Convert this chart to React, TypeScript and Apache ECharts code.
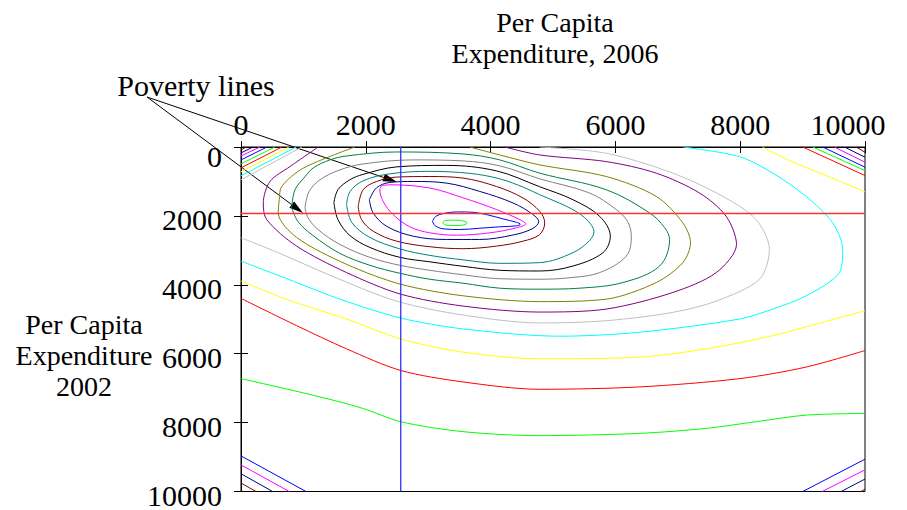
import React, { useEffect, useRef } from "react";
import * as echarts from "echarts";

// Axis ticks
const axisTicks = [0, 2000, 4000, 6000, 8000, 10000];
// Poverty lines
const povertyLine2006 = 2560;
const povertyLine2002 = 1930;

// Colour cycle of contour levels (innermost first)
const LIME = "#00ff00", BLUE = "#0000ff", MAGENTA = "#ff00ff", NAVY = "#000080", MAROON = "#800000";
const TEAL = "#008080", BLACK = "#000000", GRAY = "#808080", SEAGREEN = "#008040", OLIVE = "#808000";
const PURPLE = "#800080", SILVER = "#c0c0c0", CYAN = "#00ffff", YELLOW = "#ffff00", RED = "#ff0000";

// Contours: [x (2006), y (2002)]
const limeInner = [[3229,2193],[3282,2130],[3426,2124],[3570,2153],[3623,2202],[3570,2263],[3426,2280],[3282,2266],[3229,2193]];
const blueInner = [[3069,2156],[3122,2012],[3293,1913],[3506,1885],[3719,1896],[3934,1962],[4200,2087],[4414,2185],[4478,2242],[4414,2289],[4147,2317],[3827,2358],[3506,2395],[3239,2375],[3106,2280],[3069,2156]];
const magentaInner = [[2253,1126],[2386,1097],[3026,1192],[3554,1472],[4099,1818],[4467,2107],[4563,2231],[4414,2346],[3987,2491],[3454,2560],[3026,2491],[2706,2317],[2438,1962],[2278,1579],[2225,1241],[2253,1126]];
const navyInner = [[2057,1530],[2173,1183],[2386,1030],[2759,1001],[3293,1048],[3827,1290],[4360,1625],[4680,1962],[4771,2165],[4675,2367],[4360,2554],[3827,2684],[3293,2684],[2759,2589],[2333,2300],[2118,1913],[2057,1530]];
const maroonInner = [[1878,1723],[1958,1241],[2173,1001],[2493,874],[3026,857],[3559,903],[4094,1146],[4520,1481],[4787,1867],[4867,2202],[4787,2540],[4520,2733],[4094,2877],[3559,2952],[3026,2895],[2493,2733],[2118,2444],[1932,2107],[1878,1723]];
const tealRing = [[1692,1674],[1745,1299],[1958,981],[2385,779],[3026,707],[3666,765],[4147,924],[4547,1183],[4787,1385],[5107,1631],[5320,1818],[5507,2049],[5620,2280],[5656,2453],[5587,2713],[5320,3068],[4787,3356],[4147,3377],[3559,3275],[3026,3146],[2546,2958],[2065,2626],[1777,2194],[1692,1674]];
const blackRing = [[1489,1616],[1553,1241],[1745,952],[1958,794],[2493,577],[3293,534],[4094,693],[4787,1154],[5320,1530],[5747,2012],[5919,2589],[5800,3068],[5320,3455],[4787,3599],[4147,3579],[3559,3463],[3026,3333],[2546,3203],[2065,2915],[1745,2569],[1553,2107],[1489,1616]];
const grayRing = [[1025,1760],[1089,1299],[1265,952],[1585,664],[1958,491],[2759,375],[3559,404],[4147,548],[4787,924],[5587,1336],[6015,1818],[6196,2165],[6255,2589],[6175,3166],[5747,3645],[5267,3795],[4787,3838],[4147,3824],[3559,3709],[3026,3579],[2546,3434],[2065,3203],[1585,2828],[1233,2395],[1073,2049],[1025,1760]];
const seagreenRing = [[812,1760],[865,1241],[1025,866],[1158,606],[1425,375],[1692,260],[2493,144],[3559,202],[4147,375],[4787,759],[5855,1241],[6548,1913],[6788,2338],[6868,2684],[6708,3455],[6121,3934],[5427,4098],[4787,4127],[4147,4098],[3559,3954],[3026,3838],[2546,3665],[2065,3434],[1585,3088],[1153,2569],[913,2165],[812,1760]];
const oliveArc = [[3666,0],[4147,231],[4787,519],[5855,857],[6655,1434],[7081,2202],[7204,2779],[7081,3356],[6655,3934],[5855,4416],[4787,4488],[3559,4320],[2557,3983],[1692,3405],[892,2626],[597,1913],[613,1530],[652,1146],[997,615],[1825,0]];
const purpleArc = [[4227,0],[4787,231],[5855,424],[6655,759],[7349,1336],[7776,2012],[7941,2828],[7616,3645],[6921,4222],[5855,4704],[4787,4791],[3559,4618],[2557,4271],[1692,3645],[892,2877],[411,2107],[357,1625],[464,1001],[784,569],[1238,0]];
const silverArc = [[0,2635],[624,3088],[1425,3723],[2493,4473],[3559,4877],[4787,5108],[5855,5042],[6921,4800],[7616,4473],[8309,3838],[8468,2973],[8256,2107],[7722,1434],[6921,759],[5855,182],[4787,0]];
const cyanArc = [[7081,0],[7989,280],[8522,759],[9057,1434],[9482,2202],[9642,2973],[9590,3645],[9057,4320],[8522,4704],[7989,4993],[6388,5377],[5107,5492],[3559,5281],[2557,4964],[1585,4416],[892,3934],[0,3310]];
const yellowLow = [[0,3888],[720,4416],[1692,4993],[2557,5570],[3559,5954],[4787,6147],[6388,6098],[7456,5859],[8522,5475],[9322,5088],[10000,4753]];
const redLow = [[0,4395],[892,5186],[1692,5859],[2557,6485],[3559,6820],[4787,7033],[6388,6964],[7989,6724],[9057,6387],[10000,5908]];
const limeLow = [[0,6724],[1158,7206],[1958,7590],[2557,7974],[3559,8263],[4787,8378],[6388,8312],[7456,8167],[8256,7974],[9057,7783],[10000,7734]];

// Top-right corner
const yellowTR = [[8357,0],[8789,395],[9430,866],[10000,1299]];
const redTR = [[9002,0],[10000,828]];
const limeTR = [[9162,0],[10000,684]];
const blueTR = [[9322,0],[10000,586]];
const magentaTR = [[9510,0],[10000,442]];
const navyTR = [[9670,0],[10000,297]];
const maroonTR = [[9857,0],[10000,153]];

// Top-left corner
const silverTL = [[0,952],[977,0]];
const cyanTL = [[0,837],[881,0]];
const yellowTL = [[0,722],[768,0]];
const redTL = [[0,606],[656,0]];
const limeTL = [[0,491],[544,0]];
const blueTL = [[0,375],[416,0]];
const magentaTL = [[0,260],[304,0]];
const navyTL = [[0,173],[192,0]];
const maroonTL = [[0,87],[80,0]];

// Bottom-left corner
const blueBL = [[0,8967],[1041,10000]];
const magentaBL = [[0,9227],[773,10000]];
const navyBL = [[0,9486],[508,10000]];
const maroonBL = [[0,9755],[240,10000]];

// Bottom-right corner
const blueBR = [[9002,10000],[10000,9062]];
const magentaBR = [[9313,10000],[10000,9371]];
const navyBR = [[9617,10000],[10000,9639]];
const maroonBR = [[9937,10000],[10000,9928]];

const contours: [number[][], string, number][] = [
  [limeInner, LIME, 0.4], [blueInner, BLUE, 0.35], [magentaInner, MAGENTA, 0.35],
  [navyInner, NAVY, 0.35], [maroonInner, MAROON, 0.35], [tealRing, TEAL, 0.35],
  [blackRing, BLACK, 0.35], [grayRing, GRAY, 0.35], [seagreenRing, SEAGREEN, 0.35],
  [oliveArc, OLIVE, 0.3], [purpleArc, PURPLE, 0.3], [silverArc, SILVER, 0.3],
  [cyanArc, CYAN, 0.3], [yellowLow, YELLOW, 0.3], [redLow, RED, 0.3], [limeLow, LIME, 0.3],
  [yellowTR, YELLOW, 0.3], [redTR, RED, 0], [limeTR, LIME, 0], [blueTR, BLUE, 0],
  [magentaTR, MAGENTA, 0], [navyTR, NAVY, 0], [maroonTR, MAROON, 0],
  [silverTL, SILVER, 0], [cyanTL, CYAN, 0], [yellowTL, YELLOW, 0], [redTL, RED, 0],
  [limeTL, LIME, 0], [blueTL, BLUE, 0], [magentaTL, MAGENTA, 0], [navyTL, NAVY, 0], [maroonTL, MAROON, 0],
  [blueBL, BLUE, 0], [magentaBL, MAGENTA, 0], [navyBL, NAVY, 0], [maroonBL, MAROON, 0],
  [blueBR, BLUE, 0], [magentaBR, MAGENTA, 0], [navyBR, NAVY, 0], [maroonBR, MAROON, 0],
];

const FONT = "'Liberation Serif', 'Times New Roman', serif";
const FS = 30;
const TITLE_FS = 28;

export default function App() {
  const ref = useRef<HTMLDivElement>(null);
  useEffect(() => {
    if (!ref.current) return;
    const chart = echarts.init(ref.current, null, { renderer: "svg" });
    const labelBase = { fontFamily: FONT, fontSize: FS, color: "#000" };
    const series: any[] = contours.map(([pts, color, smooth]) => ({
      type: "line",
      data: pts,
      symbol: "none",
      showSymbol: false,
      smooth: smooth || false,
      silent: true,
      clip: true,
      lineStyle: { color, width: 1 },
    }));
    series.push({
      type: "line",
      data: [[povertyLine2006, axisTicks[0]], [povertyLine2006, axisTicks[axisTicks.length - 1]]],
      symbol: "none",
      silent: true,
      lineStyle: { color: "#3030ff", width: 1.3 },
    });
    series.push({
      type: "line",
      data: [[axisTicks[0], povertyLine2002], [axisTicks[axisTicks.length - 1], povertyLine2002]],
      symbol: "none",
      silent: true,
      lineStyle: { color: "#ff3030", width: 1.5 },
    });

    const arrow = (x1: number, y1: number, x2: number, y2: number) => {
      const dx = x2 - x1, dy = y2 - y1;
      const L = Math.sqrt(dx * dx + dy * dy);
      const ux = dx / L, uy = dy / L;
      const bx = x2 - ux * 14, by = y2 - uy * 14;
      const px = -uy * 4, py = ux * 4;
      return [
        { type: "line", shape: { x1, y1, x2: bx, y2: by }, style: { stroke: "#000", lineWidth: 1 } },
        { type: "polygon", shape: { points: [[x2, y2], [bx + px, by + py], [bx - px, by - py]] }, style: { fill: "#000" } },
      ];
    };
    const txt = (text: string, x: number, y: number, fs = TITLE_FS, lh = 31) => ({
      type: "text",
      x, y,
      style: { text, fontFamily: FONT, fontSize: fs, lineHeight: lh, fill: "#000", align: "center", verticalAlign: "middle" },
    });

    chart.setOption({
      animation: false,
      backgroundColor: "#fff",
      grid: { left: 241, top: 147, width: 624, height: 346, show: true, borderColor: "#000", borderWidth: 1, backgroundColor: "transparent" },
      xAxis: [
        {
          type: "value", position: "top", min: 0, max: 10000, interval: 2000,
          axisLine: { show: true, lineStyle: { color: "#000", width: 1 } },
          axisTick: { show: true, inside: false, length: 6, lineStyle: { color: "#000" } },
          splitLine: { show: false },
          axisLabel: {
            ...labelBase, margin: 8, showMinLabel: true, showMaxLabel: true,
            formatter: (v: number) => (v === 10000 ? `{r|${v}}` : `{n|${v}}`),
            rich: { r: { ...labelBase, padding: [0, 34, 0, 0] }, n: { ...labelBase } },
          },
        },
        {
          type: "value", position: "top", min: 0, max: 10000, interval: 2000,
          axisLine: { show: false }, axisTick: { show: true, inside: true, length: 6, lineStyle: { color: "#000" } },
          axisLabel: { show: false }, splitLine: { show: false },
        },
      ],
      yAxis: [
        {
          type: "value", inverse: true, position: "left", min: 0, max: 10000, interval: 2000,
          axisLine: { show: true, lineStyle: { color: "#000", width: 1 } },
          axisTick: { show: true, inside: true, length: 7, lineStyle: { color: "#000" } },
          splitLine: { show: false },
          axisLabel: {
            ...labelBase, margin: 19, showMinLabel: true, showMaxLabel: true,
            formatter: (v: number) => (v === 0 ? `{z|${v}}` : `{n|${v}}`),
            rich: { z: { ...labelBase, padding: [18, 0, 0, 0] }, n: { ...labelBase, padding: [7, 0, 0, 0] } },
          },
        },
        {
          type: "value", inverse: true, position: "right", min: 0, max: 10000, interval: 2000,
          axisLine: { show: true, lineStyle: { color: "#000", width: 1 } },
          axisTick: { show: true, inside: true, length: 7, lineStyle: { color: "#000" } },
          axisLabel: { show: false }, splitLine: { show: false },
        },
      ],
      series,
      graphic: [
        txt("Per Capita\nExpenditure, 2006", 555, 38),
        txt("Per Capita\nExpenditure\n2002", 84, 355),
        txt("Poverty lines", 196, 85, FS),
        ...arrow(147, 97, 397, 182),
        ...arrow(147, 97, 303, 213),
      ],
    });
    return () => chart.dispose();
  }, []);
  return <div ref={ref} style={{ position: "fixed", left: 0, top: 0, width: 907, height: 510, background: "#fff" }} />;
}
